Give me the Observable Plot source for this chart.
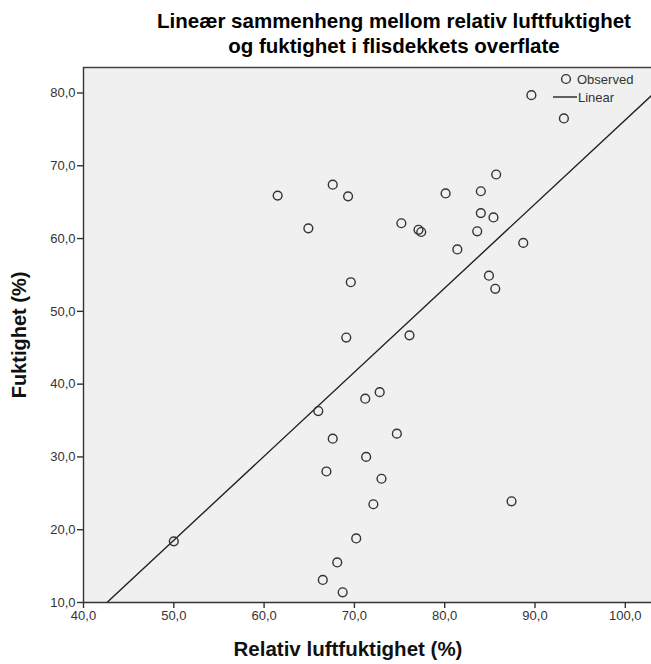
<!DOCTYPE html>
<html>
<head>
<meta charset="utf-8">
<script src="https://cdn.jsdelivr.net/npm/d3@7"></script>
<script src="https://cdn.jsdelivr.net/npm/@observablehq/plot@0.6"></script>
<style>
  html, body { margin: 0; padding: 0; background: #fff; }
  #wrap { position: relative; width: 651px; height: 664px; font-family: "Liberation Sans", Arial, sans-serif; overflow: hidden; }
  #wrap > svg.plot { position: absolute; left: 0; top: 0; }
  .title { position: absolute; left: 0; top: 8px; width: 788px; text-align: center; font-weight: bold; font-size: 20.5px; line-height: 25px; color: #000; }
  .xlabel { position: absolute; left: 148px; width: 400px; top: 637px; text-align: center; font-weight: bold; font-size: 20.5px; line-height: 24px; color: #111; }
  .ylabel { position: absolute; left: 19px; top: 335px; transform: translate(-50%, -50%) rotate(-90deg); white-space: nowrap; font-weight: bold; font-size: 20px; line-height: 24px; color: #111; }
  .legend { position: absolute; left: 545px; top: 68px; }
</style>
</head>
<body>
<div id="wrap">
  <div class="title">Lineær sammenheng mellom relativ luftfuktighet<br>og fuktighet i flisdekkets overflate</div>
  <div class="xlabel">Relativ luftfuktighet (%)</div>
  <div class="ylabel">Fuktighet (%)</div>
</div>
<script>
// Relative air humidity (%) and surface moisture (%) — observed points
const relHumidity = [89.6, 93.2, 85.7, 80.1, 84.0, 84.0, 85.4, 83.6, 81.4, 88.7, 84.9, 85.6,
  61.5, 67.6, 69.3, 64.9, 75.2, 77.1, 77.4, 69.6, 69.1, 76.1,
  66.0, 71.2, 72.8, 67.6, 74.7, 71.3, 66.9, 73.0, 72.1, 70.2, 68.1, 66.5, 68.7,
  50.0, 87.4];
const moisture = [79.7, 76.5, 68.8, 66.2, 66.5, 63.5, 62.9, 61.0, 58.5, 59.4, 54.9, 53.1,
  65.9, 67.4, 65.8, 61.4, 62.1, 61.2, 60.9, 54.0, 46.4, 46.7,
  36.3, 38.0, 38.9, 32.5, 33.2, 30.0, 28.0, 27.0, 23.5, 18.8, 15.5, 13.1, 11.4,
  18.4, 23.9];
// Linear fit
const fitSlope = 1.155;
const fitIntercept = -39.2;
// Axes
const xTicks = [40, 50, 60, 70, 80, 90, 100];
const yTicks = [10, 20, 30, 40, 50, 60, 70, 80];
const xDomain = [40, 102.9];
const yDomain = [10, 83.5];
const legendLabels = ["Observed", "Linear"];

const points = relHumidity.map((x, i) => ({x, y: moisture[i]}));
const fitLine = xDomain.map(x => ({x, y: fitIntercept + fitSlope * x}));
const fmt = d => d.toFixed(1).replace(".", ",");

const chart = Plot.plot({
  width: 651,
  height: 664,
  marginTop: 67,
  marginLeft: 83,
  marginRight: 0,
  marginBottom: 62,
  style: {fontFamily: "'Liberation Sans', Arial, sans-serif", fontSize: "13px", color: "#333", background: "transparent"},
  x: {domain: xDomain},
  y: {domain: yDomain},
  marks: [
    Plot.frame({fill: "#f0f0f0", stroke: "none"}),
    Plot.ruleY([yDomain[1]], {stroke: "#444", strokeWidth: 1.5}),
    Plot.line(fitLine, {x: "x", y: "y", stroke: "#222", strokeWidth: 1.4, clip: true}),
    Plot.dot(points, {x: "x", y: "y", r: 4.4, stroke: "#333", strokeWidth: 1.4, fill: "none"}),
    Plot.ruleX([xDomain[0]], {stroke: "#333", strokeWidth: 1.4}),
    Plot.ruleY([yDomain[0]], {stroke: "#333", strokeWidth: 1.4}),
    Plot.axisX({ticks: xTicks, tickFormat: fmt, tickSize: 6, tickPadding: 2, label: null, fontSize: 13, stroke: "#333", strokeWidth: 1.4}),
    Plot.axisY({ticks: yTicks, tickFormat: fmt, tickSize: 6, tickPadding: 2, label: null, fontSize: 13, stroke: "#333", strokeWidth: 1.4})
  ]
});
chart.classList.add("plot");
document.getElementById("wrap").prepend(chart);

// Legend
const ns = "http://www.w3.org/2000/svg";
const lg = document.createElementNS(ns, "svg");
lg.setAttribute("class", "legend");
lg.setAttribute("width", "106");
lg.setAttribute("height", "40");
lg.innerHTML = `
  <circle cx="21" cy="11" r="4.4" fill="none" stroke="#333" stroke-width="1.4"/>
  <text x="32" y="16" font-size="13" fill="#333" font-family="Liberation Sans, Arial, sans-serif">${legendLabels[0]}</text>
  <line x1="8" x2="32" y1="29" y2="29" stroke="#222" stroke-width="1.4"/>
  <text x="33" y="34" font-size="13" fill="#333" font-family="Liberation Sans, Arial, sans-serif">${legendLabels[1]}</text>`;
document.getElementById("wrap").appendChild(lg);
</script>
</body>
</html>
